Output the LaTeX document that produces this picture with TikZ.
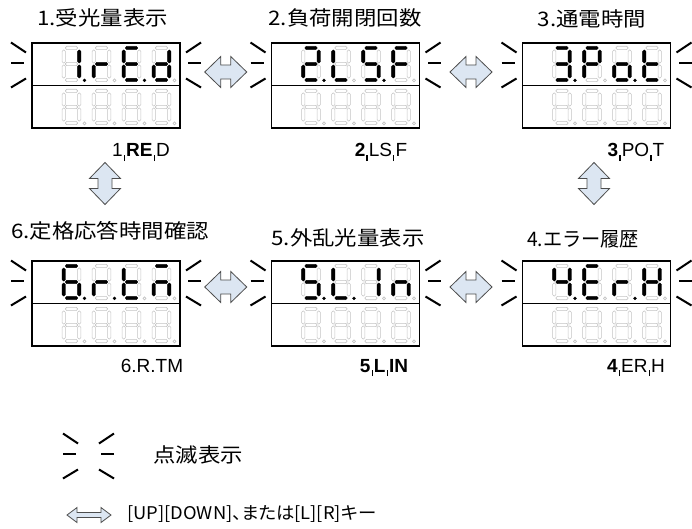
\documentclass[tikz,border=0pt]{standalone}
\usepackage{fontspec}
\setmainfont{Liberation Sans}
\newfontfamily\jp{Noto Sans CJK JP}
\newfontfamily\jpp{Noto Sans CJK JP}[RawFeature=+palt]
\usetikzlibrary{calc}
\definecolor{segoffc}{HTML}{C4C4C4}
\definecolor{arrfill}{HTML}{DCE6F2}
\definecolor{arrline}{HTML}{4D4D4D}
\tikzset{
 segoff/.style={draw=segoffc, line width=0.6pt, fill=white, rounded corners=1.4pt},
 segon/.style={fill=black, draw=black, line width=0.3pt, rounded corners=1.4pt},
 dotoff/.style={draw=segoffc, line width=0.6pt, fill=white},
 doton/.style={fill=black},
 dispbox/.style={draw=black, line width=1.6pt, minimum width=148pt, minimum height=85pt, inner sep=0pt, outer sep=0pt},
 divline/.style={line width=1.6pt},
 blinkline/.style={line width=2pt},
 blockarrow/.style={fill=arrfill, draw=arrline, line width=0.8pt, line join=miter},
 title/.style={font=\jp\fontsize{20}{24}\selectfont, inner sep=0pt},
 lab/.style={font=\fontsize{19}{22}\selectfont, inner sep=0pt, anchor=base},
}
\def\sgpa{(3.4,0.3) rectangle (15.6,3.6)}
\def\sgpb{(15.6,4) rectangle (18.9,17)}
\def\sgpc{(15.6,19) rectangle (18.9,32)}
\def\sgpd{(3.4,32.4) rectangle (15.6,35.7)}
\def\sgpe{(0.1,19) rectangle (3.4,32)}
\def\sgpf{(0.1,4) rectangle (3.4,17)}
\def\sgpg{(3.4,16.35) rectangle (15.6,19.65)}
\newcommand\segdraw[2]{\edef\sgtmp{\noexpand\draw[#1] \csname sgp#2\endcsname;}\sgtmp}
\newcommand\dig[4]{%
 \begin{scope}[shift={($(#1.north west)+(30+30*#2,3)$)}]
  \foreach \s in {a,b,c,d,e,f,g}{\segdraw{segoff}{\s}}
  \foreach \s in {#3}{\segdraw{segon}{\s}}
  \draw[#4] (22.5,34.4) circle (1.5);
 \end{scope}}
\newcommand\lowrow[1]{%
 \foreach \i in {0,1,2,3}{%
 \begin{scope}[shift={($(#1.north west)+(30+30*\i,46)$)}]
  \foreach \s in {a,b,c,d,e,f,g}{\segdraw{segoff}{\s}}
  \draw[dotoff] (22.5,34.4) circle (1.5);
 \end{scope}}}
\newcommand\blink[2]{%
 \draw[blinkline] ($#1+(-21,-0.5)$) -- ($#1+(-6,9.5)$);
 \draw[blinkline] ($#1+(-21,20)$) -- ($#1+(-8,20)$);
 \draw[blinkline] ($#1+(-21,44.5)$) -- ($#1+(-6,35.5)$);
 \draw[blinkline] ($#2+(21,-0.5)$) -- ($#2+(6,9.5)$);
 \draw[blinkline] ($#2+(21,20)$) -- ($#2+(8,20)$);
 \draw[blinkline] ($#2+(21,44.5)$) -- ($#2+(6,35.5)$);}
\newcommand\harrow[1]{\draw[blockarrow] ($#1+(-21,0)$) -- ++(16,-15.5) -- ++(0,8.5) -- ++(10,0) -- ++(0,-8.5) -- ++(16,15.5) -- ++(-16,15.5) -- ++(0,-8.5) -- ++(-10,0) -- ++(0,8.5) -- cycle;}
\newcommand\varrow[1]{\draw[blockarrow] ($#1+(0,-21)$) -- ++(15.5,16) -- ++(-8.5,0) -- ++(0,10) -- ++(8.5,0) -- ++(-15.5,16) -- ++(-15.5,-16) -- ++(8.5,0) -- ++(0,-10) -- ++(-8.5,0) -- cycle;}
\newcommand\sarrow[1]{\draw[blockarrow] ($#1+(-22,0)$) -- ++(10,-7.5) -- ++(0,5) -- ++(24,0) -- ++(0,-5) -- ++(10,7.5) -- ++(-10,7.5) -- ++(0,-5) -- ++(-24,0) -- ++(0,5) -- cycle;}
\newcommand\tk{\kern0.06em\rule[-0.22em]{0.065em}{0.3em}\kern0.06em}
\begin{document}
\begin{tikzpicture}[x=1pt,y=-1pt]
\useasboundingbox (0,0) rectangle (692,529);
\clip (0,0) rectangle (692,529);
% displays
\node[dispbox] (d1) at (106,85.5) {};
\node[dispbox] (d2) at (345.5,85.5) {};
\node[dispbox] (d3) at (596.5,85.5) {};
\node[dispbox] (d6) at (106,303.5) {};
\node[dispbox] (d5) at (345.5,303.5) {};
\node[dispbox] (d4) at (596.5,303.5) {};
\foreach \d in {d1,d2,d3,d4,d5,d6}{\draw[divline] (\d.west) -- (\d.east); \lowrow{\d}}
% top rows
\dig{d1}{0}{b,c}{doton}\dig{d1}{1}{e,g}{dotoff}\dig{d1}{2}{a,d,e,f,g}{doton}\dig{d1}{3}{b,c,d,e,g}{dotoff}
\dig{d2}{0}{a,b,g,e,d}{doton}\dig{d2}{1}{f,e,d}{dotoff}\dig{d2}{2}{a,f,g,c,d}{doton}\dig{d2}{3}{a,f,g,e}{dotoff}
\dig{d3}{0}{a,b,g,c,d}{doton}\dig{d3}{1}{a,b,f,g,e}{dotoff}\dig{d3}{2}{g,c,d,e}{doton}\dig{d3}{3}{f,g,e,d}{dotoff}
\dig{d6}{0}{a,f,g,e,d,c}{doton}\dig{d6}{1}{e,g}{doton}\dig{d6}{2}{f,g,e,d}{dotoff}\dig{d6}{3}{a,e,g,c}{dotoff}
\dig{d5}{0}{a,f,g,c,d}{doton}\dig{d5}{1}{f,e,d}{doton}\dig{d5}{2}{b,c}{dotoff}\dig{d5}{3}{e,g,c}{dotoff}
\dig{d4}{0}{f,g,b,c}{doton}\dig{d4}{1}{a,f,g,e,d}{dotoff}\dig{d4}{2}{e,g}{doton}\dig{d4}{3}{f,b,g,e,c}{dotoff}
% blink marks
\foreach \d in {d1,d2,d3,d4,d5,d6}{\blink{(\d.north west)}{(\d.north east)}}
% arrows
\coordinate (a12) at ($(d1.east)!0.5!(d2.west)+(0,-13.5)$);
\coordinate (a23) at ($(d2.east)!0.5!(d3.west)+(0,-13.5)$);
\coordinate (a65) at ($(d6.east)!0.5!(d5.west)+(0,-16.5)$);
\coordinate (a54) at ($(d5.east)!0.5!(d4.west)+(0,-16.5)$);
\coordinate (a16) at ($(d1.south)!0.5!(d6.north)+(-1,-11)$);
\coordinate (a34) at ($(d3.south)!0.5!(d4.north)+(-2.5,-11)$);
\harrow{(a12)}\harrow{(a23)}\harrow{(a65)}\harrow{(a54)}
\varrow{(a16)}\varrow{(a34)}
% titles
\node[title] (t1) at (102.5,18) {\scalebox{1.12}[1]{1.受光量表示}};
\node[title] (t2) at (345,18) {\scalebox{1.12}[1]{2.負荷開閉回数}};
\node[title] (t3) at (592,19) {\scalebox{1.12}[1]{3.通電時間}};
\node[title] (t6) at (110,231) {\scalebox{1.12}[1]{6.定格応答時間確認}};
\node[title] (t5) at (348,238) {\scalebox{1.12}[1]{5.外乱光量表示}};
\node[title] (t4) at (583,239) {\scalebox{0.96}[1]{4.エラー履歴}};
% labels
\node[lab] (l1) at (141,157) {1\tk\textbf{RE}\tk D};
\node[lab] (l2) at (381,157) {\textbf{2}\tk LS\tk F};
\node[lab] (l3) at (636,157) {\textbf{3}\tk PO\tk T};
\node[lab] (l6) at (152,372) {6.R.TM};
\node[lab] (l5) at (384,372) {\textbf{5}\tk\textbf{L}\tk\textbf{IN}};
\node[lab] (l4) at (636,372) {\textbf{4}\tk ER\tk H};
% legend
\coordinate (lgl) at (84,434);
\coordinate (lgr) at (93,434);
\blink{(lgl)}{(lgr)}
\node[anchor=west, inner sep=0pt, font=\jp\fontsize{20}{24}\selectfont] (lg1) at (153,455) {\scalebox{1.12}[1]{点滅表示}};
\coordinate (lga) at (89,515);
\sarrow{(lga)}
\node[anchor=west, inner sep=0pt, font=\jpp\fontsize{17.5}{20}\selectfont] (lg2) at (127,514) {\scalebox{1.05}[1]{[UP][DOWN]、または[L][R]キー}};
\end{tikzpicture}
\end{document}
